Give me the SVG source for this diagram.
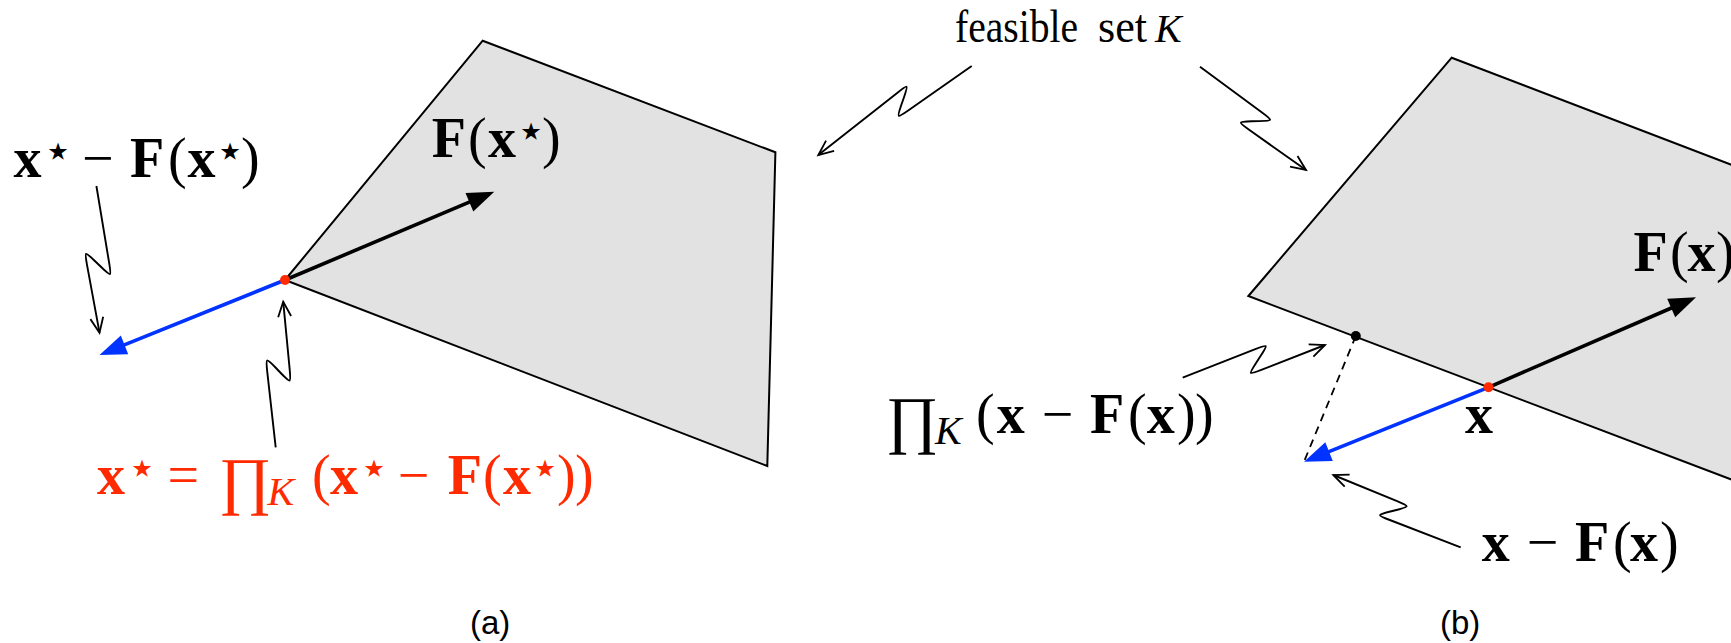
<svg xmlns="http://www.w3.org/2000/svg" width="1731" height="643" viewBox="0 0 1731 643">
<style>
.poly{fill:#e2e2e2;stroke:#000;stroke-width:2;stroke-linejoin:miter}
.sq{fill:none;stroke:#000;stroke-width:1.9;stroke-linejoin:round;marker-end:url(#v)}
.vec{stroke-width:3.6;fill:none}
.m{font-family:"Liberation Serif",serif;font-size:56px}
.b{font-weight:bold}
.st{font-family:"DejaVu Sans",sans-serif;font-size:48px}
.k{font-family:"Liberation Serif",serif;font-style:italic;font-size:40px}
.cap{font-family:"Liberation Sans",Arial,sans-serif;font-size:33px}
</style>
<defs>
<marker id="v" markerUnits="userSpaceOnUse" markerWidth="20" markerHeight="20" refX="16" refY="8" orient="auto" overflow="visible">
<path d="M1,1.5 L16,8 L1,14.5" fill="none" stroke="#000" stroke-width="1.8"/>
</marker>
</defs>

<g id="setA">
<polygon class="poly" points="285,280 482.7,40.7 775.4,152.3 767.3,466"/>
</g>
<g id="setB">
<polygon class="poly" points="1248.4,296 1451.7,57.7 1800,191 1800,505.6"/>
</g>

<g id="connectors">
<path class="sq" d="M96.4,186 L109.2,263.2 C111.5,277 111.5,277 101.4,267.3 L94.6,260.7 C84.5,251 84.5,251 87,264.8 L99.5,332.7"/>
<path class="sq" d="M275.7,447.3 L267.2,371.4 C265.7,357.5 265.7,357.5 275.5,367.5 L281.2,373.5 C291,383.5 291,383.5 289.7,369.6 L283.2,301.7"/>
<path class="sq" d="M971.7,66 L908.2,110.5 C896.7,118.5 896.7,118.5 901.2,105.3 L904,97.2 C908.5,84 908.5,84 897.5,92.7 L818.3,155"/>
<path class="sq" d="M1200,66.7 L1262,112.4 C1273.3,120.7 1273.3,120.7 1259.3,121.1 L1251.7,121.3 C1237.7,121.7 1237.7,121.7 1249.1,129.8 L1306,170"/>
<path class="sq" d="M1182.7,377.7 L1255.3,349.1 C1268.3,344 1268.3,344 1260.7,355.8 L1255.9,363.2 C1248.3,375 1248.3,375 1261.3,369.9 L1325,345"/>
<path class="sq" d="M1460.7,547.3 L1389.8,520 C1376.7,515 1376.7,515 1390.3,511.5 L1396.4,510 C1410,506.5 1410,506.5 1397.1,501.2 L1333.3,475"/>
<line x1="1355.8" y1="336" x2="1304" y2="461.7" stroke="#000" stroke-width="1.8" stroke-dasharray="8,6"/>
<line class="vec" x1="285" y1="280" x2="474" y2="200.2" stroke="#000"/>
<polygon points="494.3,191.7 473.3,211.4 465.5,193" fill="#000"/>
<line class="vec" x1="285" y1="280" x2="120" y2="346.7" stroke="#0033ff"/>
<polygon points="99.5,355 128.2,354.2 120.8,335.6" fill="#0033ff"/>
<line class="vec" x1="1488.5" y1="387.3" x2="1676" y2="306" stroke="#000"/>
<polygon points="1696,297.3 1675.2,317.2 1667.2,298.8" fill="#000"/>
<line class="vec" x1="1488.5" y1="387.3" x2="1324" y2="453.6" stroke="#0033ff"/>
<polygon points="1304,461.7 1332.8,460.9 1325.3,442.3" fill="#0033ff"/>
</g>

<g id="points">
<circle cx="285" cy="280" r="5" fill="#ff2a00"/>
<circle cx="1355.8" cy="336" r="5" fill="#000"/>
<circle cx="1488.5" cy="387.3" r="5" fill="#ff2a00"/>
</g>

<g id="labels">
<text id="lblA1" class="m"><tspan class="b" x="13.4" y="177">x</tspan><tspan class="st" x="43" y="167">⋆</tspan><tspan x="82" y="177">−</tspan><tspan class="b" x="130" y="177">F</tspan><tspan x="168" y="177">(</tspan><tspan class="b" x="187.5" y="177">x</tspan><tspan class="st" x="215" y="167">⋆</tspan><tspan x="241" y="177">)</tspan></text>
<text id="lblA2" class="m"><tspan class="b" x="431.7" y="157.3">F</tspan><tspan x="468" y="157.3">(</tspan><tspan class="b" x="488" y="157.3">x</tspan><tspan class="st" x="516" y="147">⋆</tspan><tspan x="542" y="157.3">)</tspan></text>
<text id="lblA3" class="m" fill="#ff2a00"><tspan class="b" x="97" y="494">x</tspan><tspan class="st" x="127" y="484">⋆</tspan><tspan x="167.5" y="494">=</tspan><tspan x="219" y="502" font-size="64">∏</tspan><tspan class="k" x="267.5" y="505">K</tspan><tspan x="312" y="494">(</tspan><tspan class="b" x="330" y="494">x</tspan><tspan class="st" x="359" y="484">⋆</tspan><tspan x="397.8" y="494">−</tspan><tspan class="b" x="447.8" y="494">F</tspan><tspan x="483" y="494">(</tspan><tspan class="b" x="503" y="494">x</tspan><tspan class="st" x="530" y="484">⋆</tspan><tspan x="557" y="494">)</tspan><tspan x="575" y="494">)</tspan></text>
<text id="lblK" class="m" font-size="46"><tspan x="955" y="41.7" textLength="123" lengthAdjust="spacingAndGlyphs" font-size="46">feasible</tspan><tspan x="1098" y="41.7" textLength="49" lengthAdjust="spacingAndGlyphs" font-size="46">set</tspan><tspan class="k" x="1155" y="41.7" font-size="46">K</tspan></text>
<text id="lblB1" class="m"><tspan x="886" y="441" font-size="64">∏</tspan><tspan class="k" x="935" y="444">K</tspan><tspan x="976" y="432.7">(</tspan><tspan class="b" x="996.7" y="432.7">x</tspan><tspan x="1041.7" y="432.7">−</tspan><tspan class="b" x="1090" y="432.7">F</tspan><tspan x="1128" y="432.7">(</tspan><tspan class="b" x="1146.7" y="432.7">x</tspan><tspan x="1177" y="432.7">)</tspan><tspan x="1195" y="432.7">)</tspan></text>
<text id="lblB2" class="m b" x="1465" y="433.3">x</text>
<text id="lblB3" class="m"><tspan class="b" x="1481.7" y="561">x</tspan><tspan x="1526.7" y="561">−</tspan><tspan class="b" x="1575" y="561">F</tspan><tspan x="1613" y="561">(</tspan><tspan class="b" x="1630" y="561">x</tspan><tspan x="1660" y="561">)</tspan></text>
<text id="lblB4" class="m"><tspan class="b" x="1633.4" y="270.7">F</tspan><tspan x="1670" y="270.7">(</tspan><tspan class="b" x="1687.6" y="270.7">x</tspan><tspan x="1716" y="270.7">)</tspan></text>
<text id="capA" class="cap" x="470" y="634">(a)</text>
<text id="capB" class="cap" x="1440" y="634">(b)</text>
</g>
</svg>
